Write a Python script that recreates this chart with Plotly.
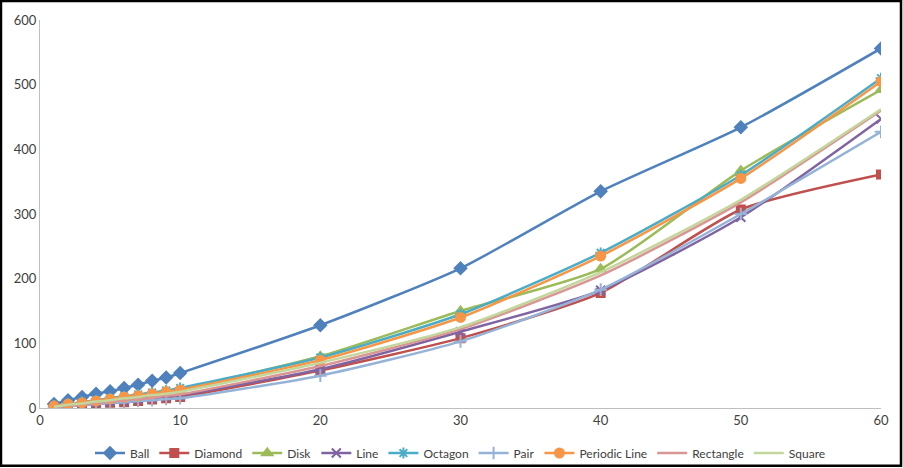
import plotly.graph_objects as go

x_vals = [1, 2, 3, 4, 5, 6, 7, 8, 9, 10, 20, 30, 40, 50, 60]

ball = [6, 12, 17, 22, 26, 31, 36, 42, 47, 54, 128, 216, 335, 434, 556]
diamond = [2, 3, 5, 6, 8, 9, 11, 13, 15, 17, 58, 108, 178, 307, 361]
disk = [3, 6, 9, 11, 14, 17, 20, 23, 26, 29, 80, 150, 215, 367, 492]
line = [2, 4, 6, 8, 10, 12, 14, 16, 18, 20, 60, 118, 182, 295, 447]
octagon = [3, 6, 9, 12, 15, 18, 21, 24, 27, 31, 78, 145, 240, 360, 510]
pair = [2, 3, 5, 6, 8, 9, 11, 12, 14, 15, 50, 103, 183, 300, 427]
periodic = [3, 6, 8, 11, 14, 17, 19, 22, 25, 28, 74, 140, 235, 355, 505]
rectangle = [2, 4, 6, 8, 10, 12, 14, 16, 19, 21, 65, 122, 205, 318, 460]
square = [2, 5, 7, 10, 12, 15, 17, 20, 22, 25, 70, 125, 210, 322, 462]

series = [
    ("Ball", ball, "#4F81BD", "diamond", 9),
    ("Diamond", diamond, "#C0504D", "square", 8),
    ("Disk", disk, "#9BBB59", "triangle-up", 9),
    ("Line", line, "#8064A2", "x-thin", 9),
    ("Octagon", octagon, "#4BACC6", "asterisk", 9),
    ("Pair", pair, "#95B3D7", "cross-thin", 9),
    ("Periodic Line", periodic, "#F79646", "circle", 9),
    ("Rectangle", rectangle, "#D99694", None, 0),
    ("Square", square, "#C3D69B", None, 0),
]

fig = go.Figure()
for name, ys, color, sym, size in series:
    if sym is None:
        fig.add_trace(go.Scatter(x=x_vals, y=ys, name=name, mode="lines",
                                 line=dict(color=color, width=2.5, shape="spline", smoothing=0.6)))
    else:
        fig.add_trace(go.Scatter(x=x_vals, y=ys, name=name, mode="lines+markers",
                                 line=dict(color=color, width=2.5, shape="spline", smoothing=0.6),
                                 marker=dict(symbol=sym, size=size, color=color,
                                             line=dict(color=color, width=2))))

fig.update_layout(
    width=903, height=468,
    margin=dict(l=40, r=22, t=20, b=60, autoexpand=False),
    paper_bgcolor="white", plot_bgcolor="white",
    font=dict(family="Lato, Open Sans, sans-serif", size=13, color="#404040"),
    showlegend=True,
    legend=dict(orientation="h", x=0.5, xanchor="center", y=-0.116, yanchor="middle",
                font=dict(size=12), itemwidth=30, tracegroupgap=0,
                bgcolor="rgba(0,0,0,0)"),
    xaxis=dict(range=[0, 60], dtick=10, showgrid=False, zeroline=False,
               showline=True, linecolor="#BFBFBF", linewidth=1, ticks="",
               tickfont=dict(size=13)),
    yaxis=dict(range=[0, 600], dtick=100, showgrid=False, zeroline=False,
               showline=True, linecolor="#BFBFBF", linewidth=1, ticks="",
               tickfont=dict(size=13)),
    shapes=[dict(type="rect", xref="paper", yref="paper",
                 x0=-0.0464, x1=1.0238, y0=-0.149, y1=1.049,
                 line=dict(color="black", width=2.5), fillcolor="rgba(0,0,0,0)")],
)

fig.write_html("out.html")
